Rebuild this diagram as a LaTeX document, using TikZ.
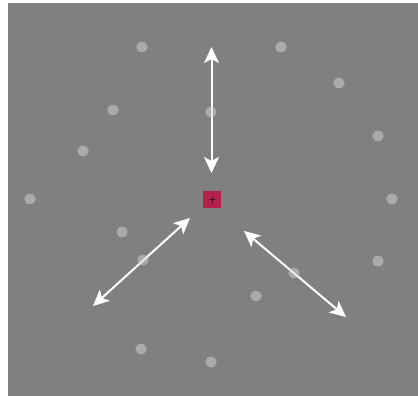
\documentclass[tikz,border=0pt]{standalone}
\usetikzlibrary{arrows.meta,shapes.geometric}
\definecolor{bg}{HTML}{808080}
\definecolor{dotc}{HTML}{D4D4D4}
\definecolor{fix}{HTML}{B5204A}
\begin{document}
\begin{tikzpicture}[x=1pt,y=-1pt,
  dotstyle/.style={ellipse,fill=dotc,fill opacity=0.5,minimum width=11.5pt,minimum height=10.5pt,inner sep=0pt},
  arr/.style={white,line width=2pt,{Stealth[length=16pt,width=15pt,inset=4pt]}-{Stealth[length=16pt,width=15pt,inset=4pt]}},
  fixbox/.style={fill=fix,minimum width=18pt,minimum height=17pt,inner sep=0pt}]
\useasboundingbox (0,0) rectangle (418,396);
\fill[white] (0,0) rectangle (418,396);
\fill[bg] (8,3) rectangle (418,396);
% arrows
\coordinate (v1) at (211.5,47);
\coordinate (v2) at (211.5,173);
\coordinate (l1) at (190,218);
\coordinate (l2) at (93,306);
\coordinate (r1) at (244,231);
\coordinate (r2) at (346,317);
\draw[arr] (v1) -- (v2);
\draw[arr] (l1) -- (l2);
\draw[arr] (r1) -- (r2);
% dots
\node[dotstyle] (d1) at (142,47) {};
\node[dotstyle] (d2) at (281,47) {};
\node[dotstyle] (d3) at (339,83) {};
\node[dotstyle] (d4) at (113,110) {};
\node[dotstyle] (d5) at (211,112) {};
\node[dotstyle] (d6) at (378,136) {};
\node[dotstyle] (d7) at (83,151) {};
\node[dotstyle] (d8) at (30,199) {};
\node[dotstyle] (d9) at (392,199) {};
\node[dotstyle] (d10) at (122,232) {};
\node[dotstyle] (d11) at (143,260) {};
\node[dotstyle] (d12) at (378,261) {};
\node[dotstyle] (d13) at (294,273) {};
\node[dotstyle] (d14) at (256,296) {};
\node[dotstyle] (d15) at (141,349) {};
\node[dotstyle] (d16) at (211,362) {};
% fixation
\node[fixbox] (fx) at (212,199.5) {};
\draw[black!60!fix,line width=0.6pt] ([xshift=-3pt]fx.center) -- ([xshift=3pt]fx.center)
  ([yshift=-3pt]fx.center) -- ([yshift=3pt]fx.center);
\end{tikzpicture}
\end{document}
